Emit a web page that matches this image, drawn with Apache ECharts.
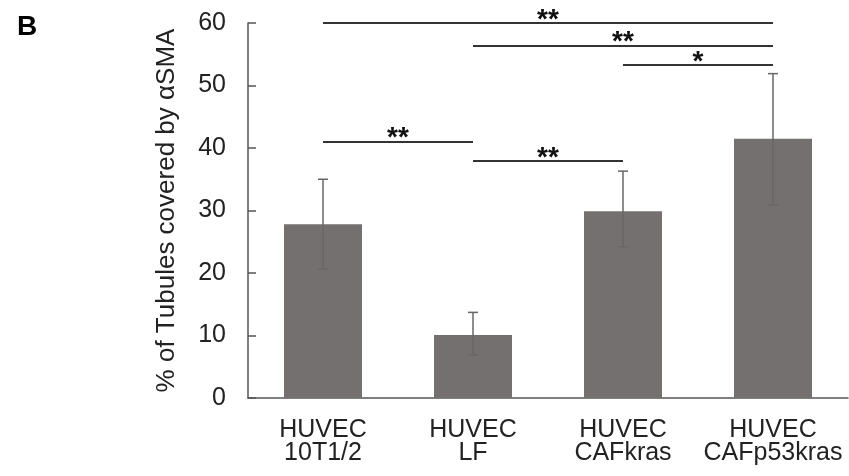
<!DOCTYPE html>
<html>
<head>
<meta charset="utf-8">
<script src="https://cdn.jsdelivr.net/npm/echarts@6/dist/echarts.min.js"></script>
<style>html,body{margin:0;padding:0;background:#fff;}#c{width:849px;height:476px;}</style>
</head>
<body>
<div id="c"></div>
<script>
var categories = ['HUVEC\n10T1/2', 'HUVEC\nLF', 'HUVEC\nCAFkras', 'HUVEC\nCAFp53kras'];
var means = [27.8, 10.1, 29.9, 41.5];
var errLow = [20.6, 6.9, 24.2, 30.9];
var errHigh = [35.0, 13.7, 36.3, 51.9];
var yTicks = [0, 10, 20, 30, 40, 50, 60];
// significance brackets: [fromIndex, toIndex, yValue, label]
var brackets = [
  [0, 3, 60.0, '**'],
  [1, 3, 56.4, '**'],
  [2, 3, 53.3, '*'],
  [0, 1, 41.0, '**'],
  [1, 2, 37.9, '**']
];

var chart = echarts.init(document.getElementById('c'), null, {renderer: 'canvas'});
var font = 'Liberation Sans, Arial, sans-serif';

var errData = categories.map(function (c, i) { return [i, errLow[i], errHigh[i]]; });

var markData = brackets.map(function (b) {
  return [
    {coord: [b[0], b[2]], label: {formatter: b[3]}},
    {coord: [b[1], b[2]]}
  ];
});

chart.setOption({
  animation: false,
  backgroundColor: '#fff',
  title: {
    text: 'B', left: 12, top: 8,
    textStyle: {fontFamily: font, fontWeight: 'bold', fontSize: 28, color: '#000'}
  },
  grid: {left: 248, right: 1, top: 23, bottom: 78, containLabel: false},
  xAxis: {
    type: 'category',
    data: categories,
    axisLine: {lineStyle: {color: '#555', width: 1.5}},
    axisTick: {show: false},
    axisLabel: {fontFamily: font, fontSize: 25, color: '#222', lineHeight: 23, margin: 21, interval: 0}
  },
  yAxis: {
    type: 'value', min: 0, max: 60, interval: 10,
    name: '% of Tubules covered by αSMA',
    nameLocation: 'middle', nameGap: 68, nameRotate: 90,
    nameTextStyle: {fontFamily: font, fontSize: 26, color: '#222'},
    axisLine: {show: true, lineStyle: {color: '#555', width: 1.5}},
    axisTick: {show: true, inside: true, length: 8, lineStyle: {color: '#555', width: 1.5}},
    axisLabel: {fontFamily: font, fontSize: 25, color: '#222', margin: 22,
      formatter: function (v) { return yTicks.indexOf(v) >= 0 ? String(v) : ''; }},
    splitLine: {show: false}
  },
  series: [
    {
      type: 'bar',
      data: means,
      barWidth: 78,
      itemStyle: {color: '#757070'},
      markLine: {
        symbol: 'none',
        silent: true,
        lineStyle: {color: '#333', width: 2, type: 'solid'},
        label: {position: 'middle', fontFamily: font, fontSize: 28, fontWeight: 'bold', color: '#111', distance: -11},
        data: markData
      }
    },
    {
      type: 'custom',
      data: errData,
      z: 5,
      renderItem: function (params, api) {
        var x = api.value(0);
        var lo = api.coord([x, api.value(1)]);
        var hi = api.coord([x, api.value(2)]);
        var cap = 5;
        var st = {stroke: '#6a6666', lineWidth: 1.5};
        return {
          type: 'group',
          children: [
            {type: 'line', shape: {x1: hi[0], y1: hi[1], x2: lo[0], y2: lo[1]}, style: st},
            {type: 'line', shape: {x1: hi[0] - cap, y1: hi[1], x2: hi[0] + cap, y2: hi[1]}, style: st},
            {type: 'line', shape: {x1: lo[0] - cap, y1: lo[1], x2: lo[0] + cap, y2: lo[1]}, style: st}
          ]
        };
      }
    }
  ]
});
</script>
</body>
</html>
